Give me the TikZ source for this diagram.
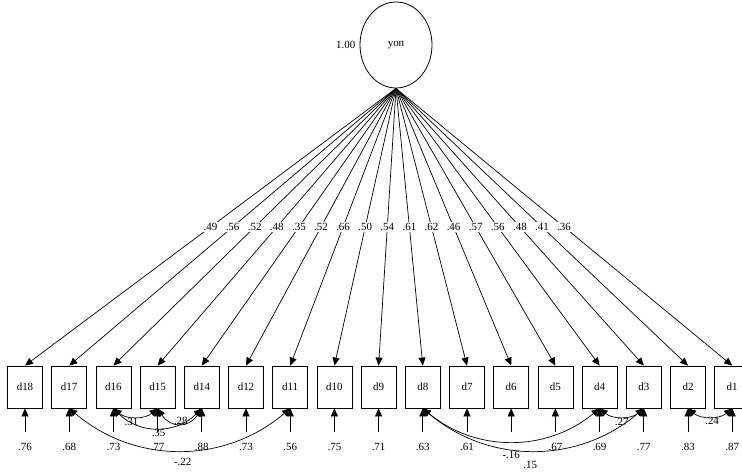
\documentclass[tikz,border=0pt]{standalone}
\usepackage{fontspec}
\setmainfont{Liberation Serif}
\usetikzlibrary{arrows.meta,shapes.geometric}
\begin{document}
\begin{tikzpicture}[x=1bp,y=-1bp,
  font=\fontsize{11}{13}\selectfont,
  obs/.style={draw, minimum width=35bp, minimum height=42bp, inner sep=0pt, line width=0.8bp},
  lat/.style={draw, ellipse, minimum width=72bp, minimum height=86bp, inner sep=0pt, line width=0.8bp},
  arr/.style={-{Triangle[length=8bp,width=7bp]}, line width=0.7bp},
  biarr/.style={{Triangle[length=8bp,width=7bp]}-{Triangle[length=8bp,width=7bp]}, line width=0.7bp},
  lab/.style={inner sep=1bp},
  ]
\useasboundingbox (0,0) rectangle (742,473);
\node[lat] (yon) at (396,45) {yon};
\node[anchor=east, lab] (yvar) at ([xshift=-3bp]yon.west) {1.00};
\foreach \n/\i/\l/\v in {18/0/.49/.76, 17/1/.56/.68, 16/2/.52/.73, 15/3/.48/.77,
  14/4/.35/.88, 12/5/.52/.73, 11/6/.66/.56, 10/7/.50/.75, 9/8/.54/.71,
  8/9/.61/.63, 7/10/.62/.61, 6/11/.46/{}, 5/12/.57/.67, 4/13/.56/.69,
  3/14/.48/.77, 2/15/.41/.83, 1/16/.36/.87}{
  \node[obs] (d\n) at ({25+\i*44.2},387) {d\n};
  \node[lab] (v\n) at ({25+\i*44.2},447) {\v};
  \coordinate (e\n) at ({25+\i*44.2},432);
  \draw[arr] (yon.south) -- node[lab, fill=white, pos=0.5] {\l} (d\n.north);
  \draw[arr] (e\n) -- (d\n.south);
}
% covariances
\draw[biarr] (d17.south) .. controls +(66,56) and +(-66,56) .. node[lab, pos=0.5, xshift=3bp, yshift=-12bp] {-.22} (d11.south);
\draw[biarr] (d16.south) .. controls +(13,11) and +(-13,11) .. node[lab, pos=0.5, xshift=-4bp, yshift=-5bp] {.31} (d15.south);
\draw[biarr] (d15.south) .. controls +(13,20) and +(-13,20) .. node[lab, pos=0.5, xshift=1bp, yshift=2bp] {.28} (d14.south);
\draw[biarr] (d16.south) .. controls +(26,26) and +(-26,26) .. node[lab, pos=0.5, xshift=1bp, yshift=-5bp] {.35} (d14.south);
\draw[biarr] (d8.south) .. controls +(53,44) and +(-53,44) .. node[lab, pos=0.5, yshift=-14bp] {-.16} (d4.south);
\draw[biarr] (d8.south) .. controls +(66,56) and +(-66,56) .. node[lab, pos=0.5, xshift=-3bp, yshift=-15bp] {.15} (d3.south);
\draw[biarr] (d4.south) .. controls +(13,11) and +(-13,11) .. node[lab, pos=0.5, yshift=-5bp] {.27} (d3.south);
\draw[biarr] (d2.south) .. controls +(13,11) and +(-13,11) .. node[lab, pos=0.5, xshift=2bp, yshift=-4bp] {.24} (d1.south);
\end{tikzpicture}
\end{document}
